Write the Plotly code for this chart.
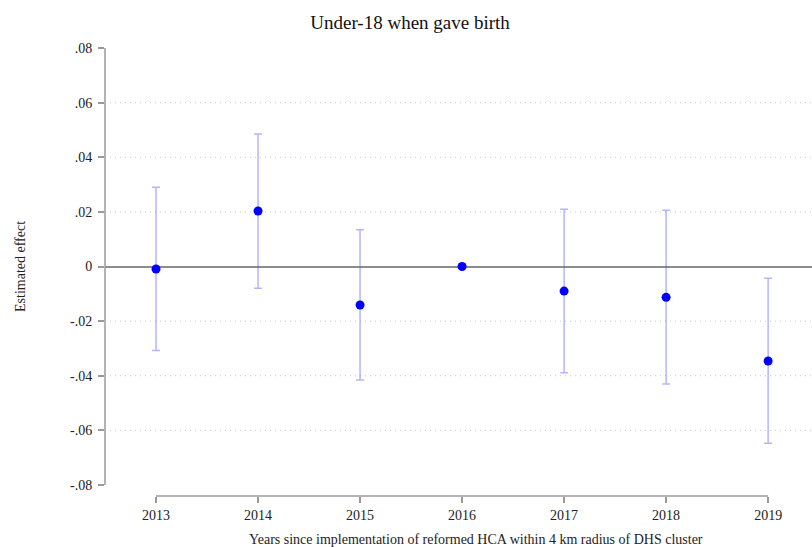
import plotly.graph_objects as go

years = [2013, 2014, 2015, 2016, 2017, 2018, 2019]
estimates = [-0.0009, 0.0203, -0.0141, 0.0, -0.0090, -0.0113, -0.0346]
ci_upper = [0.0290, 0.0485, 0.0135, 0.0, 0.0210, 0.0206, -0.0043]
ci_lower = [-0.0308, -0.0080, -0.0416, 0.0, -0.0389, -0.0430, -0.0647]
y_ticks = [-0.08, -0.06, -0.04, -0.02, 0, 0.02, 0.04, 0.06, 0.08]
y_tick_labels = ["-.08", "-.06", "-.04", "-.02", "0", ".02", ".04", ".06", ".08"]
grid_vals = [-0.06, -0.04, -0.02, 0.02, 0.04, 0.06]

err_plus = [u - e for u, e in zip(ci_upper, estimates)]
err_minus = [e - l for e, l in zip(estimates, ci_lower)]

FONT = "Liberation Serif, Times New Roman, serif"

fig = go.Figure()
fig.add_trace(go.Scatter(
    x=years, y=estimates, mode="markers",
    marker=dict(color="#0000ff", size=9),
    error_y=dict(type="data", symmetric=False, array=err_plus, arrayminus=err_minus,
                 color="rgba(90,90,255,0.45)", thickness=1.5, width=4),
    showlegend=False,
))

shapes = []
for g in grid_vals:
    shapes.append(dict(type="line", xref="paper", x0=0, x1=1, yref="y", y0=g, y1=g,
                       line=dict(color="#c8c8c8", width=1, dash="1px,4px"), layer="below"))
# y axis line
shapes.append(dict(type="line", xref="paper", x0=0, x1=0, yref="y", y0=-0.08, y1=0.08,
                   line=dict(color="#9a9a9a", width=1.5)))
# x axis line
shapes.append(dict(type="line", xref="x", x0=years[0], x1=years[-1], yref="paper", y0=0, y1=0,
                   line=dict(color="#9a9a9a", width=1.5)))

fig.update_layout(
    width=812, height=547,
    margin=dict(l=105, r=0, t=48, b=51),
    paper_bgcolor="white", plot_bgcolor="white",
    font=dict(family=FONT, color="#222222", size=14),
    title=dict(text="Under-18 when gave birth", x=0.505, xanchor="center", y=0.96, yanchor="middle",
               font=dict(family=FONT, size=19, color="#111111")),
    shapes=shapes,
    annotations=[
        dict(text="Years since implementation of reformed HCA within 4 km radius of DHS cluster",
             xref="x", x=2016.14, yref="paper", y=0, yshift=-34, yanchor="top", showarrow=False,
             font=dict(family=FONT, size=14, color="#222222")),
        dict(text="Estimated effect", xref="paper", x=0, xshift=-94, yref="y", y=0,
             textangle=-90, showarrow=False, font=dict(family=FONT, size=14, color="#222222")),
    ],
)
fig.update_xaxes(range=[2012.5, 2019.43], tickvals=years, ticktext=[str(y) for y in years],
                 showgrid=False, zeroline=False, showline=False,
                 ticks="outside", ticklen=6, tickcolor="#9a9a9a", tickwidth=1.5,
                 tickfont=dict(family=FONT, size=14, color="#222222"))
fig.update_yaxes(range=[-0.08403, 0.0800], tickvals=y_ticks, ticktext=y_tick_labels,
                 showgrid=False, zeroline=True, zerolinecolor="#8c8c8c", zerolinewidth=2,
                 showline=False, ticks="outside", ticklen=6, tickcolor="#9a9a9a", tickwidth=1.5,
                 ticklabelstandoff=3,
                 tickfont=dict(family=FONT, size=14, color="#222222"))

fig.write_html("out.html", config={"displayModeBar": False},
               post_script="document.body.style.margin='0';document.body.style.overflow='hidden';")
